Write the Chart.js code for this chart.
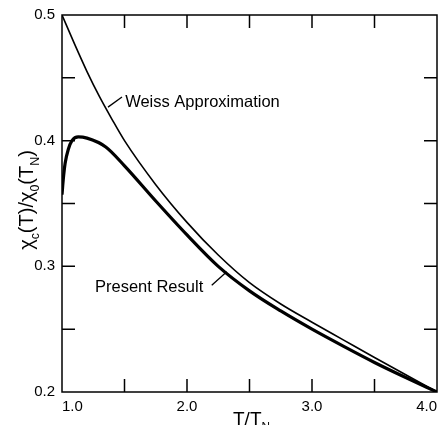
<!DOCTYPE html>
<html>
<head>
<meta charset="utf-8">
<script src="https://cdn.jsdelivr.net/npm/chart.js@4.4.1/dist/chart.umd.min.js"></script>
<style>
body { margin: 0; background: #fff; }
#wrap { width: 443px; height: 425px; position: relative; }
</style>
</head>
<body>
<div id="wrap"><canvas id="grafico"></canvas></div>
<script>
// T/TN values and curves
const tWeiss = [1.0, 1.1, 1.2, 1.3, 1.4, 1.5, 1.75, 2.0, 2.25, 2.5, 2.75, 3.0, 3.25, 3.5, 3.75, 4.0];
const weiss = [0.5, 0.477, 0.455, 0.435, 0.417, 0.400, 0.365, 0.335, 0.309, 0.287, 0.270, 0.2555, 0.2415, 0.2275, 0.2137, 0.2];

const tPresent = [1.0, 1.01, 1.025, 1.05, 1.08, 1.13, 1.2, 1.35, 1.5, 1.75, 2.0, 2.25, 2.5, 2.75, 3.0, 3.25, 3.5, 3.75, 4.0];
const present = [0.357, 0.369, 0.382, 0.393, 0.400, 0.403, 0.402, 0.395, 0.380, 0.352, 0.325, 0.300, 0.2805, 0.2645, 0.250, 0.2365, 0.2235, 0.2115, 0.2];

const xLabels = [1.0, 2.0, 3.0, 4.0];
const yLabels = [0.2, 0.3, 0.4, 0.5];

// curve labels, placed in data units
const notas = [
    { text: "Weiss Approximation", x: 1.505, y: 0.4267, de: [1.368, 0.4267], ate: [1.48, 0.4347] },
    { text: "Present Result", x: 1.264, y: 0.2796, de: [2.318, 0.2957], ate: [2.198, 0.285] }
];

const FONTE = "'Liberation Sans', Arial, sans-serif";

function pontos(xs, ys) {
    return xs.map((x, i) => ({ x: x, y: ys[i] }));
}

// draws text made of pieces, some of them subscripts
function textoComIndices(ctx, partes, x, y, tam) {
    const medidas = partes.map(p => {
        ctx.font = (p.sub ? tam * 0.62 : tam) + "px " + FONTE;
        return ctx.measureText(p.t).width;
    });
    const total = medidas.reduce((a, b) => a + b, 0);
    let cx = x - total / 2;
    ctx.textAlign = "left";
    ctx.textBaseline = "alphabetic";
    partes.forEach((p, i) => {
        ctx.font = (p.sub ? tam * 0.62 : tam) + "px " + FONTE;
        ctx.fillText(p.t, cx, p.sub ? y + tam * 0.28 : y);
        cx += medidas[i];
    });
}

const moldura = {
    id: "moldura",
    afterDatasetsDraw(chart) {
        const { ctx, chartArea: a, scales } = chart;
        const sx = scales.x, sy = scales.y;
        ctx.save();
        ctx.strokeStyle = "#000";
        ctx.fillStyle = "#000";
        ctx.lineWidth = 1.5;
        ctx.strokeRect(a.left, a.top, a.right - a.left, a.bottom - a.top);

        // tick marks point inwards on all four sides
        const len = 13;
        ctx.beginPath();
        sx.ticks.forEach(t => {
            const px = sx.getPixelForValue(t.value);
            if (px <= a.left + 1 || px >= a.right - 1) return;
            ctx.moveTo(px, a.bottom); ctx.lineTo(px, a.bottom - len);
            ctx.moveTo(px, a.top); ctx.lineTo(px, a.top + len);
        });
        sy.ticks.forEach(t => {
            const py = sy.getPixelForValue(t.value);
            if (py <= a.top + 1 || py >= a.bottom - 1) return;
            ctx.moveTo(a.left, py); ctx.lineTo(a.left + len, py);
            ctx.moveTo(a.right, py); ctx.lineTo(a.right - len, py);
        });
        ctx.stroke();

        // tick labels
        ctx.font = "15px " + FONTE;
        ctx.textBaseline = "top";
        xLabels.forEach((v, i) => {
            const s = v.toFixed(1);
            const w = ctx.measureText(s).width;
            const px = sx.getPixelForValue(v);
            let x0 = px - w / 2;
            if (i === 0) x0 = px;
            if (i === xLabels.length - 1) x0 = px - w;
            ctx.textAlign = "left";
            ctx.fillText(s, x0, a.bottom + 7);
        });
        ctx.textBaseline = "middle";
        yLabels.forEach(v => {
            const s = v.toFixed(1);
            const w = ctx.measureText(s).width;
            ctx.textAlign = "left";
            ctx.fillText(s, a.left - 7 - w, sy.getPixelForValue(v));
        });

        // curve labels with leader lines
        ctx.lineWidth = 1.3;
        ctx.font = "16.5px " + FONTE;
        ctx.textAlign = "left";
        ctx.textBaseline = "alphabetic";
        notas.forEach(n => {
            ctx.beginPath();
            ctx.moveTo(sx.getPixelForValue(n.de[0]), sy.getPixelForValue(n.de[1]));
            ctx.lineTo(sx.getPixelForValue(n.ate[0]), sy.getPixelForValue(n.ate[1]));
            ctx.stroke();
            ctx.fillText(n.text, sx.getPixelForValue(n.x), sy.getPixelForValue(n.y));
        });

        // axis titles
        textoComIndices(ctx, [{ t: "T/T" }, { t: "N", sub: true }], (a.left + a.right) / 2 + 2, 425, 19);

        ctx.save();
        ctx.translate(33, 200);
        ctx.rotate(-Math.PI / 2);
        textoComIndices(ctx, [
            { t: "χ" }, { t: "c", sub: true }, { t: "(T)/χ" }, { t: "0", sub: true },
            { t: "(T" }, { t: "N", sub: true }, { t: ")" }
        ], 0, 0, 20);
        ctx.restore();
        ctx.restore();
    }
};

const ctx = document.getElementById("grafico").getContext("2d");
new Chart(ctx, {
    type: "line",
    data: {
        datasets: [
            {
                label: "Weiss Approximation",
                data: pontos(tWeiss, weiss),
                borderColor: "#000",
                borderWidth: 1.6,
                pointRadius: 0,
                cubicInterpolationMode: "monotone",
                fill: false
            },
            {
                label: "Present Result",
                data: pontos(tPresent, present),
                borderColor: "#000",
                borderWidth: 3.2,
                pointRadius: 0,
                cubicInterpolationMode: "monotone",
                fill: false
            }
        ]
    },
    options: {
        responsive: true,
        maintainAspectRatio: false,
        animation: false,
        layout: { padding: { top: 15, right: 6, left: 0, bottom: 0 } },
        plugins: { legend: { display: false }, tooltip: { enabled: false } },
        scales: {
            x: {
                type: "linear",
                min: 1,
                max: 4,
                grid: { display: false, drawTicks: false },
                border: { display: false },
                afterFit: s => { s.height = 33; },
                ticks: { stepSize: 0.5, autoSkip: false, display: false }
            },
            y: {
                min: 0.2,
                max: 0.5,
                grid: { display: false, drawTicks: false },
                border: { display: false },
                afterFit: s => { s.width = 62; },
                ticks: { stepSize: 0.05, autoSkip: false, display: false }
            }
        }
    },
    plugins: [moldura]
});
</script>
</body>
</html>
